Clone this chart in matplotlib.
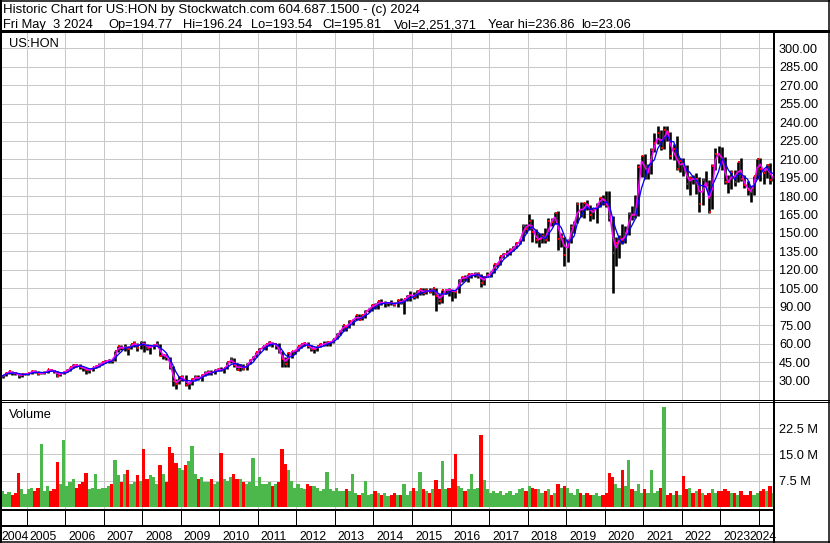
import numpy as np
import pandas as pd
import matplotlib
matplotlib.use("Agg")
import matplotlib.pyplot as plt
from matplotlib.lines import Line2D

plt.rcParams['font.family'] = ['Liberation Sans', 'DejaVu Sans']

# monthly bars for US:HON, May 2004 .. May 2024
first_year, first_month = 2004, 5

highs = [
    35, 37, 38, 37.5, 37, 36.5, 36, 36.5,                                   # 2004
    36.5, 38.5, 38.5, 37.5, 37, 37.6, 39.5, 39.8, 38.6, 37.5, 36.3, 38,      # 2005
    39.3, 41.5, 43.5, 43.6, 43.5, 41.5, 40.5, 39.5, 41.5, 42.5, 44, 45.5,    # 2006
    46.5, 47.5, 47, 54.5, 58.5, 58.8, 59.5, 58, 60, 62.3, 61, 62.5,          # 2007
    62, 60, 58, 60, 62.5, 60, 52, 52, 49, 42, 31, 33.5,                      # 2008
    34.5, 34.5, 29, 32, 35, 34.5, 35.5, 38, 38.5, 38.5, 39.5, 40,            # 2009
    41.5, 40.5, 45.5, 49, 48.5, 44.5, 43.5, 43.8, 44.5, 47.5, 50, 53.5,      # 2010
    56.5, 58.5, 60, 62, 61.5, 60, 60.5, 54, 49.5, 53.5, 54.5, 55,            # 2011
    58.5, 60, 61.5, 61.5, 59, 57, 58.5, 60.5, 62, 62, 62, 64,                # 2012
    68.5, 71, 75.5, 75.5, 79, 80, 83.5, 84, 84, 87.5, 89, 92,                # 2013
    93, 95, 96, 95, 94, 95.5, 94, 96, 97, 96.5, 100, 102.5,                  # 2014
    102, 104, 104.5, 105, 105, 105.5, 105.5, 105, 100.5, 104, 104.5, 105,    # 2015
    103.5, 104, 112.5, 115, 116, 117, 117.5, 118, 118, 117, 115, 118,        # 2016
    119, 125, 126, 131.5, 133.5, 136, 137.5, 139.5, 142.5, 145.5, 157, 157,  # 2017
    165, 161, 153, 150, 150, 154, 162, 162, 167, 167.5, 150, 147,            # 2018
    145, 157, 159.5, 175, 175, 175, 176.5, 173, 170, 174, 179.5, 180.5,      # 2019
    184, 184, 164, 147, 148, 157, 156, 167, 172, 181, 206, 213,              # 2020
    214, 206, 219, 231, 236.9, 234, 236.5, 236.5, 232, 222, 229, 211,        # 2021
    211, 205, 196, 197, 199, 195.5, 194.5, 200, 193, 206, 219, 220.9,        # 2022
    220, 212, 197, 201, 201, 208, 210.9, 197, 192.5, 188, 196.5, 210,        # 2023
    210.5, 201, 206, 207, 196.5,                                             # 2024
]

lows = [
    32.5, 33.5, 35.5, 35, 35, 32, 33, 35,
    34.6, 35.5, 36.5, 34.5, 35.2, 35.8, 36.5, 37.5, 36.5, 32.7, 33.5, 35.5,
    37, 38, 40.5, 41, 39.5, 37.5, 35.5, 36.2, 37.5, 40, 41.5, 42.8,
    44.5, 44.5, 44, 45.8, 53.5, 55, 54.5, 51, 55.5, 57.5, 54, 56,
    53.5, 55, 52, 55.5, 58, 50, 47.5, 47, 39.5, 26, 23.5, 27.5,
    30, 25.5, 23.1, 26.5, 30.5, 30.5, 30, 34, 34.5, 35, 35.5, 38,
    38.2, 36.5, 39.8, 44.5, 41, 38.5, 38, 38.5, 39, 43.5, 47, 49.5,
    52.5, 55.5, 55, 58.5, 57, 55.5, 52.5, 41.5, 41.5, 41.2, 48.5, 51.5,
    54.5, 56.5, 58, 56.5, 54.5, 52.5, 54, 57, 58.5, 58.5, 58, 60.5,
    64, 67.5, 70.5, 70.5, 73, 75.5, 79, 79, 79.5, 81, 85.5, 87,
    88, 88.5, 91.5, 89.5, 91, 91.5, 90.5, 89.5, 92.5, 84.5, 95, 94.5,
    96, 97, 100, 100, 100.5, 101.5, 100, 87, 92.5, 93.5, 100.5, 99,
    94.5, 97, 101.5, 110.5, 111, 110.5, 113.5, 114, 113.5, 106, 107.5, 114,
    114.5, 117.5, 122.5, 124, 130, 131, 132, 135, 137.5, 141, 143.5, 150,
    152.5, 143, 141.5, 139, 142, 142, 143.5, 155.5, 157.5, 136, 139, 123.5,
    126.5, 142, 150, 158, 163, 162, 169, 159.5, 161, 158, 171, 173,
    171, 160, 101, 123, 130, 141, 142, 148, 160.5, 162, 164, 195.5,
    194, 193.5, 198, 216, 222, 217, 218, 225, 210, 209, 201.5, 199.5,
    196, 185.5, 181, 189.5, 181.5, 166.7, 172.5, 188.5, 166.6, 169.5, 201, 207,
    201, 190, 182.5, 186, 188.5, 191, 192, 186.5, 180.5, 174.9, 180.5, 193.5,
    192, 190, 195, 190, 192.5,
]

closes = [
    34, 36.6, 37.5, 36, 35.9, 33.7, 35.4, 35.4,
    36, 38, 37.2, 35.8, 36.2, 36.6, 39.2, 38.4, 37.5, 34.2, 36, 37.3,
    38.4, 41.1, 42.8, 42.5, 41.1, 40.3, 38.7, 38.7, 40.9, 42.1, 43, 45.2,
    45.7, 46.8, 46, 54.2, 57.9, 56.3, 57.5, 56.1, 59.5, 60.4, 56.6, 61.6,
    59, 56.6, 57.4, 59.3, 59.7, 50.3, 50.8, 49.3, 41.5, 29.8, 27.4, 32.8,
    32.9, 26.7, 27.9, 31.2, 33.2, 31.4, 34.7, 36.6, 37.1, 35.9, 38.9, 39.2,
    38.6, 40, 45.3, 47.5, 42.7, 39, 42.8, 39.1, 43.9, 47.1, 49.5, 53.2,
    56, 57.9, 59.7, 61.2, 59.6, 59.6, 53.1, 47.6, 43.9, 52.4, 54.1, 54.4,
    58, 59.6, 61, 58.2, 55.7, 55.8, 58, 59.5, 59.7, 61.2, 61.3, 63.5,
    68.2, 70.4, 75.4, 73.5, 78.4, 79.3, 83, 79.3, 83, 86.8, 88.6, 91.4,
    91.2, 94.5, 92.8, 92.9, 93.2, 92.9, 91.4, 95.2, 93.1, 96.1, 99.2, 99.9,
    97.8, 102.5, 104.3, 100.9, 104, 102, 105, 99.2, 94.7, 103.3, 104, 103.6,
    103.2, 101.8, 112, 114.2, 113.2, 116.3, 116.4, 116.4, 116.6, 109.7, 114, 115.9,
    118.3, 124.4, 124.9, 131.1, 133, 133.3, 136.1, 138.3, 141.7, 144.2, 155.9, 153.4,
    159.7, 151.1, 144.5, 144.7, 147.9, 144, 159.7, 159.1, 166.4, 144.7, 146.8, 132.1,
    143.6, 155.1, 158.9, 173.6, 164.3, 174.6, 172.5, 164.6, 169.2, 172.7, 178.6, 177,
    173, 162.3, 133.8, 141.9, 145.4, 144.6, 149.8, 165.5, 164.6, 164.9, 203.9, 212.7,
    195.3, 202.4, 217.1, 223, 230.9, 219.4, 233.9, 231.8, 212.3, 218.6, 202.2, 208.5,
    204.5, 189.9, 194.6, 193.5, 193.6, 173.8, 192.7, 189.4, 167, 204, 214.5, 214.3,
    208.3, 191.4, 191.1, 199.8, 191.6, 207.5, 194.1, 188.7, 184.7, 183.2, 195.9, 209.7,
    201.9, 198.7, 205.3, 192.8, 195.8,
]

# volume, millions of shares
volumes = [
    4.5, 3.8, 4.2, 3.5, 4.0, 9.8, 5.0, 3.8,
    5.0, 5.5, 4.5, 5.5, 18.0, 4.5, 6.0, 4.5, 5.0, 12.7, 6.5, 19.2,
    6.0, 7.0, 8.0, 5.5, 6.5, 7.0, 9.8, 5.0, 5.5, 9.3, 5.0, 5.5,
    5.5, 6.0, 6.5, 13.5, 9.0, 7.0, 9.5, 10.5, 6.5, 7.0, 9.0, 7.5,
    16.7, 8.0, 9.0, 8.5, 6.5, 12.0, 9.5, 7.0, 17.0, 15.5, 12.5, 11.0,
    10.5, 12.0, 13.0, 17.3, 9.5, 8.0, 8.5, 7.0, 7.0, 8.0, 6.5, 7.0,
    15.5, 8.0, 7.5, 8.5, 9.5, 8.0, 8.0, 7.0, 6.5, 7.0, 14.0, 6.0,
    8.5, 6.5, 6.5, 7.0, 6.0, 6.5, 7.0, 16.5, 12.2, 10.5, 7.5, 5.5,
    6.5, 5.5, 5.0, 6.5, 6.0, 6.0, 5.5, 4.5, 5.0, 10.0, 5.0, 4.5,
    5.5, 4.5, 4.5, 5.0, 4.5, 9.3, 4.0, 3.5, 4.0, 7.3, 3.5, 3.8,
    4.5, 4.0, 3.5, 4.0, 3.0, 3.5, 4.0, 3.5, 3.5, 6.5, 3.5, 4.5,
    5.5, 4.5, 10.0, 5.0, 4.5, 4.0, 5.0, 7.8, 5.0, 13.0, 5.0, 5.5,
    8.0, 15.2, 6.0, 5.5, 4.5, 5.0, 9.3, 5.0, 5.5, 20.7, 7.8, 5.0,
    4.0, 4.5, 4.0, 4.5, 3.5, 4.0, 4.5, 3.5, 4.0, 5.0, 5.5, 4.5,
    6.0, 5.5, 5.0, 5.0, 4.0, 4.5, 5.0, 3.5, 4.0, 6.5, 5.5, 6.0,
    5.5, 4.0, 3.5, 5.0, 4.0, 3.5, 4.0, 3.5, 3.5, 4.0, 3.0, 3.5,
    4.0, 9.8, 8.5, 6.5, 5.5, 10.5, 6.0, 13.3, 5.0, 4.5, 6.5, 4.0,
    5.0, 4.0, 10.5, 4.0, 4.5, 5.5, 28.7, 3.5, 4.0, 3.5, 4.5, 3.5,
    8.7, 5.0, 5.5, 4.0, 4.5, 5.0, 4.0, 3.5, 4.0, 5.0, 4.0, 4.5,
    4.5, 5.0, 4.5, 4.0, 4.0, 3.5, 4.5, 3.5, 3.5, 4.5, 3.5, 4.0,
    4.5, 5.0, 4.5, 6.0, 4.0,
]

header1 = "Historic Chart for US:HON by Stockwatch.com 604.687.1500 - (c) 2024"
header2_fields = ["Fri May  3 2024", "Op=194.77", "Hi=196.24", "Lo=193.54",
                  "Cl=195.81", "Vol=2,251,371", "Year hi=236.86", "lo=23.06"]
header2_x = [3, 108, 183, 250.5, 322.5, 394, 488, 581]  # pixel starts
price_ticks = np.arange(30, 301, 15)
vol_ticks = [7.5, 15.0, 22.5]
years = list(range(2005, 2025))

n = len(closes)
x = first_year + (first_month - 1 + np.arange(n) + 0.5) / 12
close_s = pd.Series(closes)
ma_fast = close_s.rolling(2, min_periods=1).mean()
ma_slow = close_s.rolling(4, min_periods=1).mean()
up = np.diff(closes, prepend=closes[0]) >= 0

W, H = 830, 543
PX = 0.72  # points per pixel at dpi 100


def fx(p):
    return p / W


def fy(p):
    return 1 - p / H


fig = plt.figure(figsize=(W / 100, H / 100), dpi=100)
ax = fig.add_axes([fx(2), fy(400), fx(773) - fx(2), fy(32) - fy(400)])
axv = fig.add_axes([fx(2), fy(509), fx(773) - fx(2), fy(402) - fy(509)])
axb = fig.add_axes([fx(2), fy(541), fx(773) - fx(2), fy(510) - fy(541)])

xlim = (2004.359, 2024.37)
grid_col = '#c8c8c8'
for a in (ax, axv, axb):
    a.set_xlim(*xlim)
    for s in a.spines.values():
        s.set_visible(False)
    a.set_xticks(years)
    a.tick_params(axis='x', length=0, labelbottom=False)

# price panel
ax.set_ylim(14.32, 313.24)
ax.set_yticks(price_ticks)
ax.set_yticklabels([f"{v:.2f}" for v in price_ticks])
ax.yaxis.tick_right()
ax.tick_params(axis='y', length=0, pad=6 * PX, labelsize=9.2)
ax.grid(True, color=grid_col, lw=PX)
ax.set_axisbelow(True)

ax.vlines(x, lows, highs, color='black', lw=2.6 * PX)
ax.hlines(closes, x, x + 0.045, color='red', lw=2 * PX)
ax.plot(x, ma_fast, color='#ff00ff', lw=1.6 * PX)
ax.plot(x, ma_slow, color='#0000ff', lw=1.3 * PX)
ax.annotate('US:HON', xy=(0, 1), xycoords='axes fraction', xytext=(7 * PX, -14.7 * PX),
            textcoords='offset points', ha='left', va='baseline', fontsize=9.3)

# volume panel
axv.set_ylim(-0.6, 30.0)
axv.set_yticks(vol_ticks)
axv.set_yticklabels([f"{v:.1f} M" for v in vol_ticks])
axv.yaxis.tick_right()
axv.tick_params(axis='y', length=0, pad=6 * PX, labelsize=9.2)
axv.grid(True, color=grid_col, lw=PX)
axv.set_axisbelow(True)
colors = np.where(up, '#4cb84c', '#ff0000')
axv.bar(x, volumes, width=1 / 12, color=colors, linewidth=0)
axv.annotate('Volume', xy=(0, 1), xycoords='axes fraction', xytext=(7 * PX, -16.3 * PX),
             textcoords='offset points', ha='left', va='baseline', fontsize=9.3)

# date band
axb.set_ylim(0, 1)
axb.set_yticks([])
axb.vlines(years, 1 - 15 / 31, 1, color='black', lw=PX)
base = 1 / 31
axb.annotate('2004', xy=(xlim[0], base), xytext=(-1 * PX, 0), textcoords='offset points',
             ha='left', va='baseline', fontsize=8.8)
for yr in years[:-1]:
    axb.annotate(str(yr), xy=(yr, base), xytext=(3 * PX, 0), textcoords='offset points',
                 ha='left', va='baseline', fontsize=8.8)
axb.annotate(str(years[-1]), xy=(xlim[1], base), xytext=(4 * PX, 0), textcoords='offset points',
             ha='right', va='baseline', fontsize=8.8)


def hline(y, x0, x1, w):
    fig.add_artist(Line2D([fx(x0), fx(x1)], [fy(y), fy(y)], color='black', lw=w * PX,
                          transform=fig.transFigure))


def vline(xp, y0, y1, w):
    fig.add_artist(Line2D([fx(xp), fx(xp)], [fy(y0), fy(y1)], color='black', lw=w * PX,
                          transform=fig.transFigure))


# frame lines
hline(0.5, 0, 830, 1.5)
hline(542, 0, 830, 1.5)
vline(1, 0, 543, 2)
vline(829, 0, 543, 1.5)
hline(31, 0, 830, 3)
vline(774.3, 31, 543, 2)
hline(400.2, 0, 830, 1)
hline(402.2, 0, 830, 1)
hline(509.5, 0, 774, 2)
hline(525.7, 0, 774, 2)

fig.text(fx(3), fy(13.5), header1, ha='left', va='baseline', fontsize=9.5)
for txt, xp in zip(header2_fields, header2_x):
    fig.text(fx(xp), fy(28.3), txt, ha='left', va='baseline', fontsize=9.3)

fig.savefig('out.png', dpi=100)
